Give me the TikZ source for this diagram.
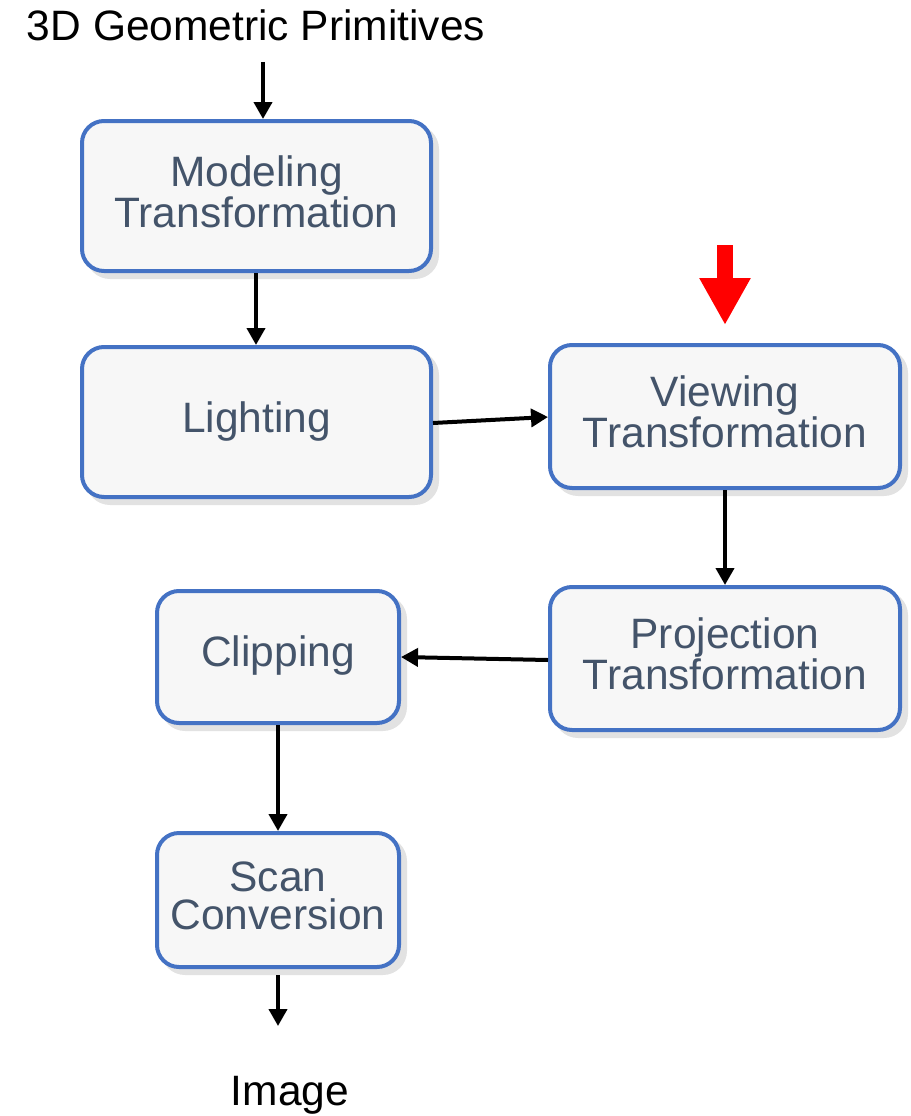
\documentclass[tikz,border=0pt]{standalone}
\usepackage{fontspec}
\setmainfont{Liberation Sans}
\usetikzlibrary{arrows.meta,shadows}
\definecolor{boxblue}{HTML}{4472C4}
\definecolor{boxfill}{HTML}{F7F7F7}
\definecolor{boxtext}{HTML}{44546A}
\definecolor{shadowgray}{HTML}{E2E2E2}
\begin{document}
\begin{tikzpicture}[x=1pt,y=-1pt,
  stagebox/.style={draw=boxblue, line width=4pt, fill=boxfill, rounded corners=22pt,
    inner sep=0pt,
    copy shadow={shadow xshift=6pt, shadow yshift=-6pt, fill=shadowgray, draw=shadowgray}},
  stagelabel/.style={text=boxtext, align=center, inner sep=0pt,
    font=\fontsize{42.5}{38}\selectfont},
  flow/.style={line width=4pt, -{Triangle[length=17pt,width=18pt]}},
  plain/.style={font=\fontsize{42.5}{38}\selectfont, inner sep=0pt}]
\useasboundingbox (0,0) rectangle (910,1116);
\node[plain] (title) at (256,25) {3D Geometric Primitives};
\node[plain] (image) at (290,1095) {Image};
\node[stagebox, minimum width=349pt, minimum height=150pt] (model) at (256.5,196) {};
\node[stagebox, minimum width=349pt, minimum height=150pt] (light) at (256.5,422) {};
\node[stagebox, minimum width=350pt, minimum height=143pt] (view) at (725,416.5) {};
\node[stagebox, minimum width=350pt, minimum height=143pt] (proj) at (725,658.5) {};
\node[stagebox, minimum width=242pt, minimum height=132pt] (clip) at (278,657) {};
\node[stagebox, minimum width=242pt, minimum height=134pt] (scan) at (278,900) {};
\node[stagelabel] (modeltext) at ([yshift=4.5pt]model.center) {Modeling\\Transformation};
\node[stagelabel] (lighttext) at (light.center) {Lighting};
\node[stagelabel] (viewtext) at ([yshift=4.5pt]view.center) {Viewing\\Transformation};
\node[stagelabel] (projtext) at ([yshift=4.5pt]proj.center) {Projection\\Transformation};
\node[stagelabel] (cliptext) at ([yshift=1pt]clip.center) {Clipping};
\node[stagelabel] (scantext) at ([yshift=4.5pt]scan.center) {Scan\\Conversion};
\coordinate (t0) at (263,62);
\coordinate (t1) at (263,119);
\coordinate (s0) at (278,975);
\coordinate (s1) at (278,1026);
\coordinate (r0) at (725,245);
\coordinate (r1) at (725,325);
\draw[flow] (t0) -- (t1);
\draw[flow] (256,273) -- (light.north -| 256,0);
\draw[flow] (light.east |- 0,423) -- (view.west |- 0,417);
\draw[flow] (view.south) -- (proj.north);
\draw[flow] (proj.west |- 0,660) -- (clip.east |- 0,657);
\draw[flow] (clip.south) -- (scan.north);
\draw[flow] (s0) -- (s1);
\draw[red, line width=16pt, -{Triangle[length=47pt,width=48pt]}] (r0) -- (r1);
\end{tikzpicture}
\end{document}
